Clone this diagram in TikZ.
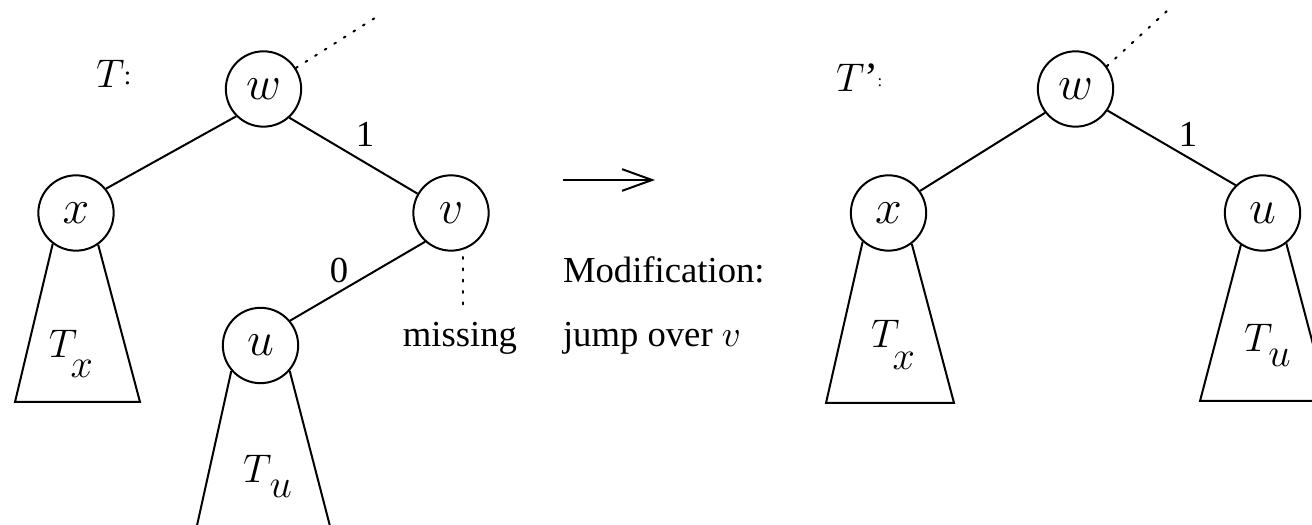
\documentclass[tikz,border=0pt]{standalone}
\usepackage{fontspec}
\setmainfont{Liberation Serif}
\usetikzlibrary{arrows.meta}
\newcommand{\subT}[3]{$T$\kern#1\raisebox{-#2}{$#3$}}
\begin{document}
\begin{tikzpicture}[x=0.3pt,y=-0.3pt, line width=0.6pt,
  vert/.style={circle,draw,minimum size=22.6pt,inner sep=0pt,font=\fontsize{13.5}{15}\selectfont},
  lbl/.style={inner sep=0pt,font=\fontsize{11}{13}\selectfont},
  mlbl/.style={inner sep=0pt,font=\fontsize{12.5}{14}\selectfont},
  dots/.style={dash pattern=on 0.6pt off 2.8pt, line cap=round}]
\useasboundingbox (0,0) rectangle (1312,525);
\clip (0,0) rectangle (1312,525);
% left tree
\node[vert] (w) at (263.5,89) {$w$};
\node[vert] (x) at (76,213) {$x$};
\node[vert] (v) at (451,213) {$v$};
\node[vert] (u) at (260.5,345.5) {$u$};
% right tree
\node[vert] (w2) at (1075.5,89) {$w$};
\node[vert] (x2) at (888.5,213) {$x$};
\node[vert] (u2) at (1262.5,213) {$u$};
% edges
\draw (w.225) -- (x.39);
\draw (w.312) -- (v.150);
\draw (v.228) -- (u.40);
\draw (w2.218) -- (x2.35);
\draw (w2.326) -- (u2.134);
% dotted
\coordinate (wtop) at (378,16);
\draw[dots] (w.33) -- (wtop);
\coordinate (w2top) at (1168,10);
\draw[dots] (w2.36) -- (w2top);
\coordinate (m1) at (463,257);
\coordinate (m2) at (463,312);
\draw[dots] (m1) -- (m2);
% subtrees
\coordinate (xbl) at (15,402); \coordinate (xbr) at (140,402);
\draw (x.233) -- (xbl) -- (xbr) -- (x.305);
\coordinate (ubl) at (196,530); \coordinate (ubr) at (331,530);
\draw (u.221) -- (ubl);
\draw (u.319) -- (ubr);
\coordinate (x2bl) at (826,403); \coordinate (x2br) at (954,403);
\draw (x2.228) -- (x2bl) -- (x2br) -- (x2.307);
\coordinate (u2bl) at (1200,401); \coordinate (u2br) at (1328,401);
\draw (u2.236) -- (u2bl) -- (u2br) -- (u2.308);
% subtree labels
\node[mlbl,anchor=base west] (tx) at (48,358) {\subT{-2pt}{6pt}{x}};
\node[mlbl,anchor=base west] (tu) at (242,482) {\subT{-0.5pt}{4.8pt}{u}};
\node[mlbl,anchor=base west] (tx2) at (870,348) {\subT{-2pt}{6.5pt}{x}};
\node[mlbl,anchor=base west] (tu2) at (1243,352) {\subT{-1.2pt}{4.5pt}{u}};
% tree names
\node[mlbl,anchor=base west] (tname) at (95,88) {$T$};
\node[lbl,anchor=base,font=\footnotesize] (tcolon) at (127.5,85) {:};
\node[mlbl,anchor=base west] (t2name) at (835,92) {$T$’};
\node[lbl,anchor=base,font=\tiny] (t2colon) at (880,87) {:};
% edge labels
\node[lbl,anchor=base] (e1) at (365,147) {1};
\node[lbl,anchor=base] (e0) at (339,283) {0};
\node[lbl,anchor=base] (e1b) at (1188,147) {1};
\node[lbl,anchor=base] (miss) at (460,347) {missing};
% arrow and text
\coordinate (a1) at (563,180);
\coordinate (a2) at (655,180);
\draw[-{Straight Barb[length=9pt,width=6.5pt]}] (a1) -- (a2);
\node[lbl,anchor=base west] (mod) at (562,283) {Modification:};
\node[lbl,anchor=base west] (jump) at (562,347) {jump over $v$};
\end{tikzpicture}
\end{document}
